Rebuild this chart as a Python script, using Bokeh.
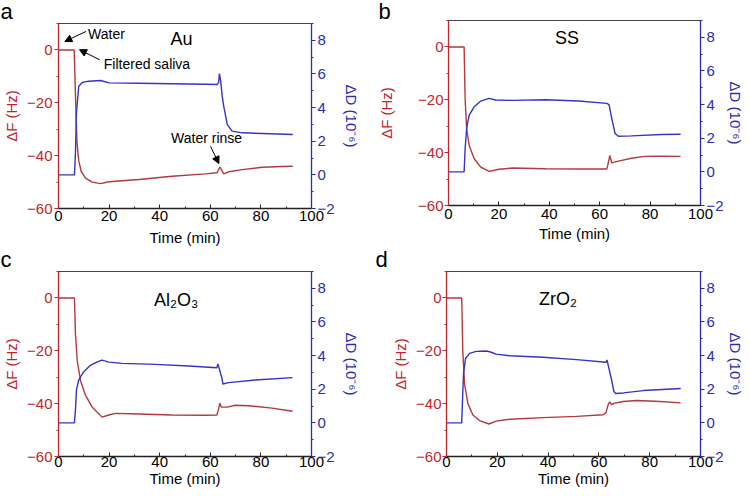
from bokeh.plotting import figure
from bokeh.models import Range1d, LinearAxis, SingleIntervalTicker, Label, Arrow, NormalHead, Title
from bokeh.layouts import column, row
from bokeh.embed import file_html
from bokeh.resources import INLINE

FONT = "Liberation Sans"
RED_LINE = "#b23a3c"
RED_TXT = "#c0262b"
BLUE_LINE = "#3434c6"
BLUE_TXT = "#2b2bb4"

# ---------------- data ----------------
# Panel a : Au
a_tF = [0, 3, 6.2, 6.8, 7.3, 8.0, 9.0, 10.7, 13.3, 16.6, 19.9, 31.8, 44.9, 58.1, 62.7, 63.8, 65.3, 67.3, 72.6, 80.5, 88.4, 92.6]
a_F = [0, 0, 0, -20, -35, -42, -46, -48.5, -50.0, -50.6, -49.9, -49.0, -47.8, -46.9, -46.5, -44.3, -46.9, -46.1, -45.3, -44.4, -44.1, -44.0]
a_tD = [0, 3, 6.3, 6.7, 7.1, 8.0, 9.5, 12.0, 16.6, 20.0, 31.8, 44.9, 58.1, 62.7, 63.3, 63.6, 64.1, 64.6, 65.3, 66.7, 68.6, 72.6, 80.5, 92.6]
a_D = [0, 0, 0, 1.3, 3.7, 5.27, 5.5, 5.57, 5.61, 5.47, 5.45, 5.42, 5.39, 5.37, 5.5, 6.02, 5.6, 4.8, 4.09, 3.0, 2.6, 2.5, 2.46, 2.40]

# Panel b : SS
b_tF = [0, 3, 6.2, 6.6, 7.2, 8.2, 10.2, 12.8, 16.1, 20.1, 25.3, 38.5, 51.6, 62.8, 63.2, 64.0, 64.8, 67.4, 72.6, 77.9, 84.5, 92.1]
b_F = [0, 0, 0, -19.7, -31.0, -37.3, -42.3, -45.5, -47.1, -46.3, -45.8, -46.1, -46.2, -46.2, -44.8, -41.1, -43.9, -43.2, -42.1, -41.4, -41.3, -41.4]
b_tD = [0, 3, 6.2, 6.6, 7.2, 8.2, 10.2, 12.8, 16.1, 18.7, 25.3, 38.5, 51.6, 62.8, 63.7, 64.8, 66.1, 67.4, 72.6, 84.5, 92.1]
b_D = [0, 0, 0, 1.39, 2.58, 3.38, 3.87, 4.21, 4.37, 4.27, 4.25, 4.29, 4.21, 4.07, 4.0, 3.17, 2.28, 2.12, 2.14, 2.22, 2.24]

# Panel c : Al2O3
c_tF = [0, 3, 6.3, 6.7, 7.4, 8.7, 10.7, 13.3, 17.2, 19.9, 22.5, 31.7, 44.9, 58.0, 62.6, 63.3, 63.8, 64.3, 65.3, 66.6, 69.9, 75.1, 84.4, 92.5]
c_F = [0, 0, 0, -13.6, -23.7, -31.3, -36.9, -41.3, -45.1, -44.3, -43.7, -43.9, -44.3, -44.4, -44.3, -42.0, -39.8, -41.3, -41.3, -41.3, -40.6, -40.8, -41.7, -42.9]
c_tD = [0, 3, 6.3, 6.7, 7.1, 8.0, 10.0, 12.6, 15.3, 17.2, 19.9, 25.1, 38.3, 51.5, 62.6, 63.0, 63.4, 64.6, 65.0, 67.2, 77.8, 92.5]
c_D = [0, 0, 0, 0.77, 1.96, 2.55, 3.04, 3.42, 3.63, 3.73, 3.61, 3.54, 3.48, 3.38, 3.28, 3.50, 3.30, 2.65, 2.31, 2.39, 2.55, 2.69]

# Panel d : ZrO2
d_tF = [0, 3, 6.0, 6.4, 7.1, 8.4, 10.4, 13.0, 16.7, 19.6, 24.9, 38.0, 51.2, 61.7, 62.8, 63.7, 64.3, 65.0, 65.9, 69.6, 74.9, 84.1, 92.2]
d_F = [0, 0, 0, -19.8, -32.4, -39.9, -44.3, -46.4, -47.7, -46.6, -45.9, -45.3, -44.8, -44.2, -43.4, -40.2, -39.3, -40.4, -39.9, -39.2, -38.8, -39.2, -39.7]
d_tD = [0, 3, 6.0, 6.3, 6.7, 7.5, 9.1, 11.7, 15.6, 17.0, 19.6, 24.9, 38.0, 51.2, 62.8, 63.2, 63.5, 65.0, 65.9, 66.6, 69.6, 77.5, 92.2]
d_D = [0, 0, 0, 1.35, 2.94, 3.83, 4.13, 4.25, 4.27, 4.23, 4.09, 3.99, 3.90, 3.76, 3.60, 3.74, 3.54, 2.55, 1.86, 1.75, 1.78, 1.92, 2.04]

x_ticks_interval = 20
F_range = (-60, 10)
D_range = (-2, 9)
x_label = "Time (min)"
F_label = "ΔF (Hz)"
D_label = "ΔD (10⁻⁶)"


def panel(tF, F, tD, D, name, name_xy, letter, height,
          bl, br, bt, bb, title_so, x_lbl_so, x_title_va, x_title_so,
          left_lbl_so, left_axis_so, right_axis_so):
    p = figure(width=375, height=height, x_range=Range1d(0, 100),
               y_range=Range1d(*F_range), output_backend="svg",
               toolbar_location=None, min_border_left=bl, min_border_right=br,
               min_border_top=bt, min_border_bottom=bb)
    p.frame_align = False
    p.extra_y_ranges = {"D": Range1d(*D_range)}
    p.xgrid.visible = False
    p.ygrid.visible = False
    p.outline_line_color = "#444444"
    p.outline_line_width = 1
    p.background_fill_color = "white"
    p.border_fill_color = "white"

    # panel letter as the figure title, pushed to the left edge
    p.title.text = letter
    p.title.text_font = FONT
    p.title.text_font_size = "22px"
    p.title.text_font_style = "normal"
    p.title.text_color = "black"
    p.title.align = "left"
    p.title.vertical_align = "top"
    p.title.offset = -bl
    p.title.standoff = title_so

    p.line(tF, F, line_color=RED_LINE, line_width=1.4)
    p.line(tD, D, line_color=BLUE_LINE, line_width=1.4, y_range_name="D")

    # bottom axis
    xa = p.xaxis[0]
    xa.ticker = SingleIntervalTicker(interval=x_ticks_interval, num_minor_ticks=2)
    xa.axis_line_color = "#222222"
    xa.axis_line_width = 1.3
    xa.major_tick_in = 4
    xa.major_tick_out = 0
    xa.minor_tick_in = 2
    xa.minor_tick_out = 0
    xa.major_tick_line_color = "#222222"
    xa.minor_tick_line_color = "#222222"
    xa.major_label_text_font = FONT
    xa.major_label_text_font_size = "15px"
    xa.major_label_text_color = "black"
    xa.major_label_standoff = x_lbl_so
    # x axis title placed as a title below the axis (tighter spacing)
    p.add_layout(Title(text=x_label, align="center", vertical_align=x_title_va,
                       standoff=x_title_so, text_font=FONT, text_font_size="15px",
                       text_font_style="normal", text_color="black"), "below")

    # left axis
    ya = p.yaxis[0]
    ya.ticker = SingleIntervalTicker(interval=20, num_minor_ticks=2)
    ya.axis_label = F_label
    ya.axis_line_color = RED_TXT
    ya.axis_line_width = 1.3
    ya.major_tick_in = 0
    ya.major_tick_out = 4
    ya.minor_tick_in = 0
    ya.minor_tick_out = 2
    ya.major_tick_line_color = RED_TXT
    ya.minor_tick_line_color = RED_TXT
    ya.major_label_text_font = FONT
    ya.major_label_text_font_size = "15px"
    ya.major_label_text_color = RED_TXT
    ya.major_label_standoff = left_lbl_so
    ya.axis_label_text_font = FONT
    ya.axis_label_text_font_size = "15px"
    ya.axis_label_text_font_style = "normal"
    ya.axis_label_text_color = RED_TXT
    ya.axis_label_standoff = left_axis_so

    # right axis
    ra = LinearAxis(y_range_name="D", axis_label=D_label,
                    ticker=SingleIntervalTicker(interval=2, num_minor_ticks=2))
    ra.axis_line_color = BLUE_TXT
    ra.axis_line_width = 1.3
    ra.major_tick_in = 0
    ra.major_tick_out = 4
    ra.minor_tick_in = 0
    ra.minor_tick_out = 2
    ra.major_tick_line_color = BLUE_TXT
    ra.minor_tick_line_color = BLUE_TXT
    ra.major_label_text_font = FONT
    ra.major_label_text_font_size = "15px"
    ra.major_label_text_color = BLUE_TXT
    ra.major_label_standoff = 2
    ra.axis_label_text_font = FONT
    ra.axis_label_text_font_size = "15px"
    ra.axis_label_text_font_style = "normal"
    ra.axis_label_text_color = BLUE_TXT
    ra.axis_label_standoff = right_axis_so
    p.add_layout(ra, "right")

    p.add_layout(Label(x=name_xy[0], y=name_xy[1], text=name, text_font=FONT,
                       text_font_size="18px", text_align="center",
                       text_baseline="middle", text_color="black"))
    return p


pa = panel(a_tF, a_F, a_tD, a_D, "Au", (48.6, 4.25), "a", 248,
           58, 64, 23, 30, -4, 2, "bottom", 6, 2, 4, 5)
pb = panel(b_tF, b_F, b_tD, b_D, "SS", (47.0, 3.5), "b", 248,
           70, 50, 20, 43, -10, 3, "top", 6, 1, 20, 0)
pc = panel(c_tF, c_F, c_tD, c_D, "Al₂O₃", (46.5, -0.9), "c", 248,
           58, 64, 23, 40, -4, 0, "top", 0, 2, 4, 5)
pd_ = panel(d_tF, d_F, d_tD, d_D, "ZrO₂", (43.9, -0.4), "d", 248,
            71, 50, 23, 40, -4, 0, "top", 0, 1, 4, 0)

# annotations of panel a
for txt, x, y in [("Water", 11.7, 6.1), ("Filtered saliva", 17.9, -5.3), ("Water rinse", 44.5, -33.5)]:
    pa.add_layout(Label(x=x, y=y, text=txt, text_font=FONT, text_font_size="14px",
                        text_align="left", text_baseline="middle", text_color="black"))
for xs, ys, xe, ye in [(10.9, 7.0, 2.5, 3.2), (16.3, -3.75, 8.3, 0.1), (60.1, -36.5, 63.4, -43.0)]:
    pa.add_layout(Arrow(end=NormalHead(size=7, fill_color="black", line_color="black"),
                        x_start=xs, y_start=ys, x_end=xe, y_end=ye,
                        line_color="black", line_width=1))

layout = column(row(pa, pb), row(pc, pd_))
open("out.html", "w").write(file_html(layout, INLINE))
